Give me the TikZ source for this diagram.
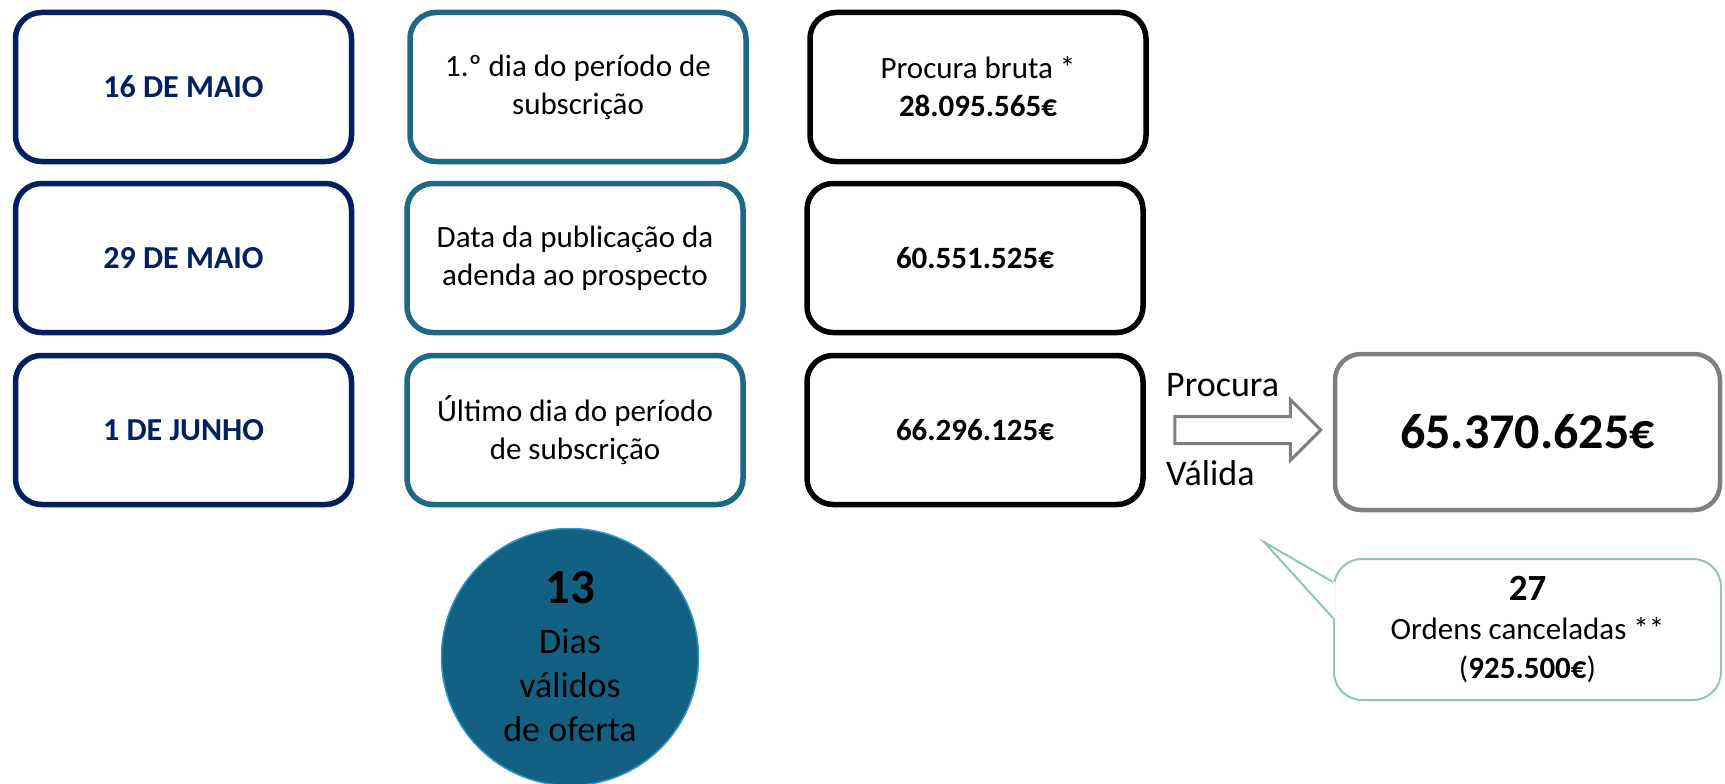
\documentclass[tikz,border=0pt]{standalone}
\usepackage{fontspec}
\setmainfont{Carlito}
\usepackage{xcolor}
\usepackage{tikz}
\usetikzlibrary{shapes.arrows}

\definecolor{navy}{RGB}{0,32,96}
\definecolor{tealbox}{RGB}{28,104,135}
\definecolor{boxgray}{RGB}{127,127,127}
\definecolor{cnlgreen}{RGB}{147,196,183}
\definecolor{dayblue}{RGB}{18,96,130}
\definecolor{dayrim}{RGB}{46,150,200}

\tikzset{
  card/.style={rectangle, rounded corners=26pt, minimum width=336pt, minimum height=149pt,
    line width=5.5pt, align=center, fill=white, font=\fontsize{31}{38}\selectfont},
  datecard/.style={card, draw=navy, text=navy, font=\fontsize{32}{38}\selectfont\bfseries},
  eventcard/.style={card, draw=tealbox},
  sumcard/.style={card, draw=black, font=\fontsize{31}{38}\selectfont},
  lbl/.style={anchor=west, inner sep=0pt, font=\fontsize{36}{42}\selectfont},
}

\begin{document}
\begin{tikzpicture}[x=1pt, y=-1pt]
            \useasboundingbox (0,0) rectangle (1725,784);

            % dates
            \node[datecard] (d1) at (183.5, 87) {16 DE MAIO};
            \node[datecard] (d2) at (183.5, 258) {29 DE MAIO};
            \node[datecard] (d3) at (183.5, 430) {1 DE JUNHO};

            % events
            \node[eventcard] (e1) at (578, 87) {1.º dia do período de\\subscrição};
            \node[eventcard] (e2) at (575, 258) {Data da publicação da\\adenda ao prospecto};
            \node[eventcard] (e3) at (575, 430) {Último dia do período\\de subscrição};

            % procura
            \node[sumcard] (p1) at (978, 87) {Procura bruta *\\\textbf{28.095.565€}};
            \node[sumcard] (p2) at (975, 258) {\textbf{60.551.525€}};
            \node[sumcard] (p3) at (975, 430) {\textbf{66.296.125€}};

            % valid demand
            \node[single arrow, draw=boxgray, fill=white, line width=3pt, inner sep=0pt,
                  text height=12pt, text depth=12pt, minimum height=146pt,
                  single arrow head extend=17pt] (arrow) at (1241, 430) {};
            \node[lbl] (procura) at (1166, 385) {Procura};
            \node[lbl] (valida) at (1166, 473) {Válida};
            \node[card, draw=boxgray, minimum width=385pt, minimum height=156pt,
                  line width=4.5pt, font=\fontsize{50}{60}\selectfont\bfseries] (total) at (1527.5, 432) {65.370.625€};

            % days
            \node[circle, fill=dayblue, draw=dayrim, line width=1.5pt, minimum size=257pt,
                  align=center, font=\fontsize{36}{44}\selectfont] (days) at (570, 657)
                  {{\fontsize{49}{54}\selectfont\bfseries 13}\\[6pt]Dias\\válidos\\de oferta};

            % cancelled orders
            \node[rectangle, rounded corners=28pt, draw=cnlgreen, line width=2pt, fill=white,
                  minimum width=387pt, minimum height=141pt, align=center,
                  font=\fontsize{31}{39}\selectfont] (cnl) at (1527.5, 629.5)
                  {{\fontsize{37}{44}\selectfont\bfseries 27}\\Ordens canceladas **\\(\textbf{925.500€})};
            \coordinate (tip) at (1264, 542);
            \draw[white, line width=3pt] ([yshift=-24pt]cnl.north west) -- ([yshift=-60pt]cnl.north west);
            \draw[cnlgreen, line width=2pt] ([yshift=-24pt]cnl.north west) -- (tip) -- ([yshift=-60pt]cnl.north west);
\end{tikzpicture}
\end{document}
